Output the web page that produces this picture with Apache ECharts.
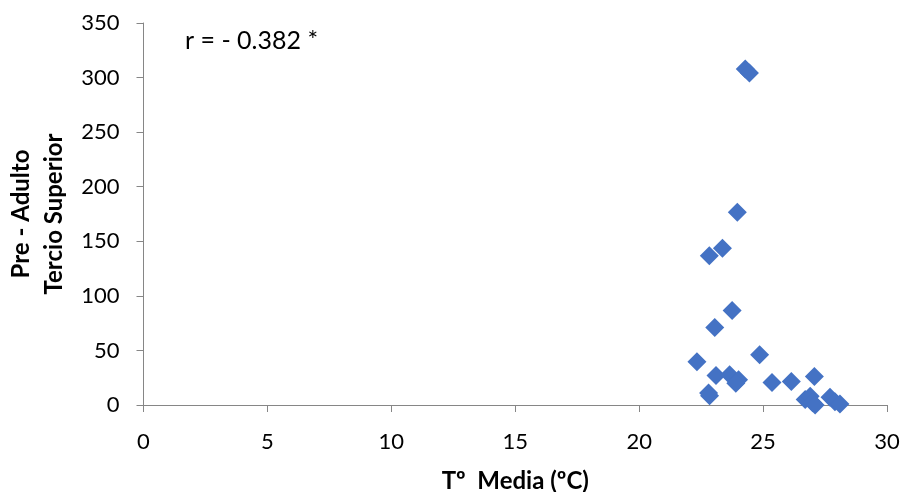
<!DOCTYPE html>
<html><head><meta charset="utf-8">
<script src="https://cdn.jsdelivr.net/npm/echarts@6/dist/echarts.min.js"></script>
<style>html,body{margin:0;padding:0;background:#fff}#c{width:906px;height:492px}</style>
</head><body><div id="c"></div>
<script>
const tempMedia = [23.96, 23.36, 22.83, 23.75, 23.05, 22.33, 24.86, 23.1, 23.65, 24.01, 23.9, 22.84, 22.8, 25.36, 26.14, 27.07, 26.7, 26.9, 27.0, 27.1, 27.7, 27.9, 28.1, 24.28, 24.45];
const preAdulto = [176.7, 143.7, 136.7, 86.6, 71.0, 39.6, 46.0, 27.1, 27.7, 23.2, 20.0, 8.5, 11.0, 20.7, 21.6, 26.2, 5, 8, 2, 0, 7, 3, 1, 307.8, 304.2];
const xTicks = [0, 30, 5];
const yTicks = [0, 350, 50];
const annotation = 'r = - 0.382 *';

const font = 'Lato, "Open Sans", sans-serif';
const chart = echarts.init(document.getElementById('c'));
chart.setOption({
  animation: false,
  grid: {left: 143.5, right: 19, top: 23, bottom: 87, containLabel: false, outerBoundsMode: 'none'},
  xAxis: {
    type: 'value', min: xTicks[0], max: xTicks[1], interval: xTicks[2],
    name: 'Tº  Media (ºC)', nameLocation: 'middle', nameGap: 64,
    nameTextStyle: {fontFamily: font, fontWeight: 'bold', fontSize: 24, color: '#000'},
    axisLine: {lineStyle: {color: '#868686'}},
    axisTick: {show: true, length: 7, lineStyle: {color: '#868686'}},
    axisLabel: {fontFamily: font, fontSize: 22, color: '#000', margin: 26},
    splitLine: {show: false}
  },
  yAxis: {
    type: 'value', min: yTicks[0], max: yTicks[1], interval: yTicks[2],
    name: 'Pre - Adulto\nTercio Superior', nameLocation: 'middle', nameGap: 70,
    nameTextStyle: {fontFamily: font, fontWeight: 'bold', fontSize: 24, color: '#000', lineHeight: 33},
    axisLine: {show: true, lineStyle: {color: '#868686'}},
    axisTick: {show: true, length: 7, lineStyle: {color: '#868686'}},
    axisLabel: {fontFamily: font, fontSize: 22, color: '#000', margin: 24},
    splitLine: {show: false}
  },
  graphic: [{
    type: 'text', left: 185, top: 28,
    style: {text: annotation, fontFamily: font, fontSize: 25, fill: '#000'}
  }],
  series: [{
    type: 'scatter',
    data: tempMedia.map((x, i) => [x, preAdulto[i]]),
    symbol: 'diamond', symbolSize: [19, 19],
    itemStyle: {color: '#4472C4', opacity: 1}
  }]
});
</script></body></html>
